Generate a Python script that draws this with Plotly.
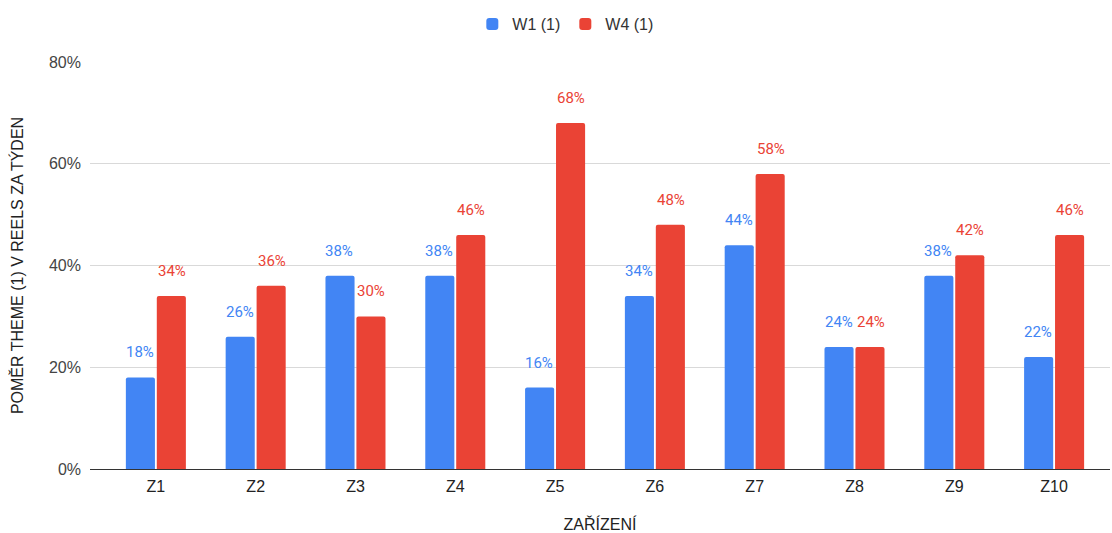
import plotly.graph_objects as go

categories = ["Z1", "Z2", "Z3", "Z4", "Z5", "Z6", "Z7", "Z8", "Z9", "Z10"]
w1_values = [0.18, 0.26, 0.38, 0.38, 0.16, 0.34, 0.44, 0.24, 0.38, 0.22]
w4_values = [0.34, 0.36, 0.30, 0.46, 0.68, 0.48, 0.58, 0.24, 0.42, 0.46]
series_names = ["W1 (1)", "W4 (1)"]
y_ticks = [0, 0.2, 0.4, 0.6, 0.8]
y_tick_labels = ["0%", "20%", "40%", "60%", "80%"]

BLUE = "#4285F4"
RED = "#EA4335"
FONT = "Liberation Sans, Arial, sans-serif"
LABEL_FONT = "Roboto, Arial, sans-serif"

fig = go.Figure()
for name, vals, color in [(series_names[0], w1_values, BLUE), (series_names[1], w4_values, RED)]:
    fig.add_trace(go.Bar(
        x=categories, y=vals, name=name, marker_color=color,
        marker_line_width=0, hoverinfo="skip",
    ))

# value labels above each bar
annotations = []
for vals, color, shift in [(w1_values, BLUE, -16), (w4_values, RED, 16)]:
    for cat, v in zip(categories, vals):
        annotations.append(dict(
            x=cat, y=v, xref="x", yref="y", text=f"{round(v * 100)}%",
            showarrow=False, xshift=shift, yshift=25,
            font=dict(family=LABEL_FONT, size=15, color=color),
        ))

fig.update_layout(
    width=1112, height=533,
    margin=dict(l=90, r=2, t=62, b=64),
    paper_bgcolor="white", plot_bgcolor="white",
    barmode="group", bargap=0.38, bargroupgap=0.06,
    barcornerradius=2,
    font=dict(family=FONT, size=16, color="#222222"),
    legend=dict(
        orientation="h", x=0.466, xanchor="center", y=0.955, yanchor="middle",
        yref="container", font=dict(family=FONT, size=16, color="#333333"),
        itemwidth=30,
    ),
    annotations=annotations,
    xaxis=dict(
        range=[-0.66, 9.56], showgrid=False, ticks="", showline=False,
        ticklabelstandoff=6,
        tickfont=dict(family=FONT, size=16, color="#222222"),
        title=dict(text="ZAŘÍZENÍ", font=dict(family=FONT, size=16, color="#222222"), standoff=26),
    ),
    yaxis=dict(
        range=[0, 0.8], tickvals=y_ticks, ticktext=y_tick_labels,
        showgrid=True, gridcolor="#d9d9d9", gridwidth=1,
        zeroline=True, zerolinecolor="#333333", zerolinewidth=1,
        ticks="", ticklabelstandoff=8,
        tickfont=dict(family=FONT, size=16, color="#444444"),
        title=dict(text="POMĚR THEME (1) V REELS ZA TÝDEN", font=dict(family=FONT, size=16, color="#222222"), standoff=21),
    ),
)

fig.write_html("out.html")
